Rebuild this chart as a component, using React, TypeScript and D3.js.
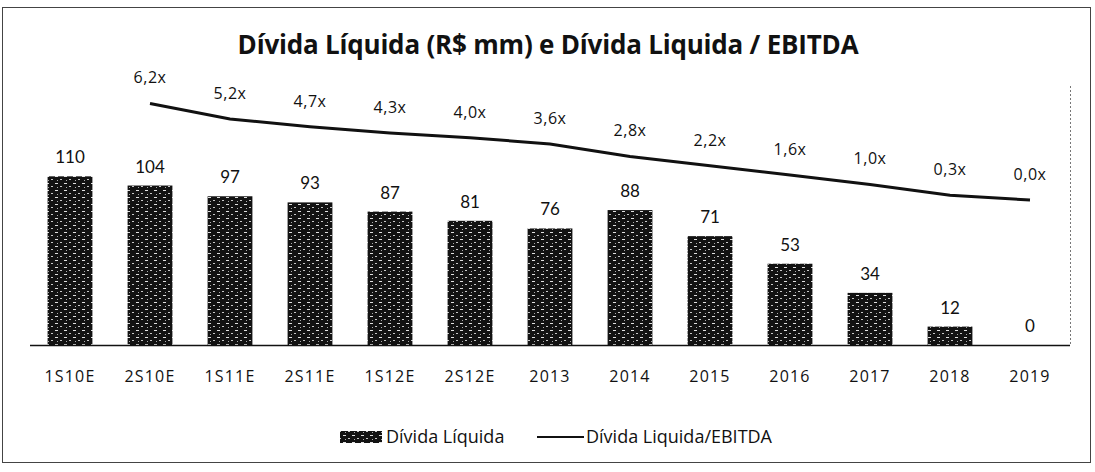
import React, { useEffect, useRef } from 'react'
import * as d3 from 'd3'

const categories = ['1S10E', '2S10E', '1S11E', '2S11E', '1S12E', '2S12E', '2013', '2014', '2015', '2016', '2017', '2018', '2019']
const netDebt = [110, 104, 97, 93, 87, 81, 76, 88, 71, 53, 34, 12, 0]
const debtToEbitda: (number | null)[] = [null, 6.2, 5.2, 4.7, 4.3, 4.0, 3.6, 2.8, 2.2, 1.6, 1.0, 0.3, 0.0]

const W = 1095
const H = 472
const FONT = 'Lato, "Noto Sans", sans-serif'
const WIDE = '"Open Sans", "Noto Sans", sans-serif'

export default function App() {
  const ref = useRef<SVGSVGElement | null>(null)

  useEffect(() => {
    const svg = d3.select(ref.current)
    svg.selectAll('*').remove()

    let left = 30, right = 1070, base = 345

    let x = d3.scaleBand().domain(categories).range([left, right]).paddingInner(0.44).paddingOuter(0.22)
    let y = d3.scaleLinear().domain([0, 120]).range([base, base - 184])
    // secondary axis for the ratio line
    let y2 = d3.scaleLinear().domain([0, 7]).range([200, 91])
    let cx = (c: string) => (x(c) as number) + x.bandwidth() / 2

    // scanned-looking texture for the bars
    let defs = svg.append('defs')
    let pat = defs.append('pattern')
      .attr('id', 'tex')
      .attr('width', 9)
      .attr('height', 7)
      .attr('patternUnits', 'userSpaceOnUse')
    pat.append('rect').attr('width', 9).attr('height', 7).style('fill', '#121212')
    pat.append('rect').attr('x', 1).attr('y', 1).attr('width', 3).attr('height', 1).style('fill', '#e0e0e0')
    pat.append('rect').attr('x', 6).attr('y', 4).attr('width', 2).attr('height', 1).style('fill', '#c8c8c8')
    pat.append('rect').attr('x', 3).attr('y', 5).attr('width', 1).attr('height', 1).style('fill', '#aaa')

    // outer frame
    svg.append('rect')
      .attr('x', 2.5).attr('y', 7.5)
      .attr('width', 1088).attr('height', 455)
      .style('fill', 'none')
      .style('stroke', '#444')
      .style('stroke-width', 1)

    // plot area right edge
    svg.append('line')
      .attr('x1', right + 0.5).attr('x2', right + 0.5)
      .attr('y1', 86).attr('y2', base)
      .style('stroke', '#777')
      .style('stroke-dasharray', '2,2')

    svg.append('text')
      .attr('x', 548).attr('y', 54)
      .attr('text-anchor', 'middle')
      .style('font-family', WIDE)
      .style('font-weight', 'bold')
      .style('font-size', '26px')
      .style('letter-spacing', '-0.2px')
      .style('fill', '#111')
      .text('Dívida Líquida (R$ mm) e Dívida Liquida / EBITDA')

    let g = svg.append('g')

    g.selectAll('.bar')
      .data(netDebt)
      .enter()
      .append('rect')
      .attr('x', (d, i) => x(categories[i]) as number)
      .attr('y', d => y(d))
      .attr('width', x.bandwidth())
      .attr('height', d => base - y(d))
      .style('fill', 'url(#tex)')

    g.selectAll('.barlbl')
      .data(netDebt)
      .enter()
      .append('text')
      .attr('x', (d, i) => cx(categories[i]))
      .attr('y', d => y(d) - 13)
      .attr('text-anchor', 'middle')
      .style('font-family', FONT)
      .style('font-size', '17px')
      .style('fill', '#111')
      .text(d => d)

    // x axis baseline
    g.append('line')
      .attr('x1', left).attr('x2', right)
      .attr('y1', base + 0.5).attr('y2', base + 0.5)
      .style('stroke', '#111')
      .style('stroke-width', 1.5)

    g.selectAll('.tick')
      .data(categories)
      .enter()
      .append('text')
      .attr('x', d => cx(d))
      .attr('y', 382)
      .attr('text-anchor', 'middle')
      .style('font-family', WIDE)
      .style('font-size', '16px')
      .style('letter-spacing', '1.2px')
      .style('fill', '#111')
      .text(d => d)

    let pts = categories.map((c, i) => ({ c, v: debtToEbitda[i] }))
    let line = d3.line<{ c: string, v: number | null }>()
      .defined(d => d.v !== null)
      .x(d => cx(d.c))
      .y(d => y2(d.v as number))

    g.append('path')
      .datum(pts)
      .attr('d', line)
      .style('fill', 'none')
      .style('stroke', '#111')
      .style('stroke-width', 3)

    g.selectAll('.ratiolbl')
      .data(pts.filter(d => d.v !== null))
      .enter()
      .append('text')
      .attr('x', d => cx(d.c))
      .attr('y', d => y2(d.v as number) - 20)
      .attr('text-anchor', 'middle')
      .style('font-family', WIDE)
      .style('font-size', '16px')
      .style('letter-spacing', '0.5px')
      .style('fill', '#111')
      .text(d => (d.v as number).toFixed(1).replace('.', ',') + 'x')

    // legend
    let lg = svg.append('g')
    lg.append('rect')
      .attr('x', 340).attr('y', 431)
      .attr('width', 42).attr('height', 12)
      .style('fill', 'url(#tex)')
    lg.append('text')
      .attr('x', 386).attr('y', 443)
      .style('font-family', WIDE)
      .style('font-size', '18px')
      .style('fill', '#111')
      .text('Dívida Líquida')
    lg.append('line')
      .attr('x1', 537).attr('x2', 584)
      .attr('y1', 437).attr('y2', 437)
      .style('stroke', '#111')
      .style('stroke-width', 2)
    lg.append('text')
      .attr('x', 586).attr('y', 443)
      .style('font-family', WIDE)
      .style('font-size', '18px')
      .style('fill', '#111')
      .text('Dívida Liquida/EBITDA')
  }, [])

  return (
    <svg
      ref={ref}
      width={W}
      height={H}
      style={{ position: 'absolute', left: 0, top: 0, background: '#fff' }}
    />
  )
}
